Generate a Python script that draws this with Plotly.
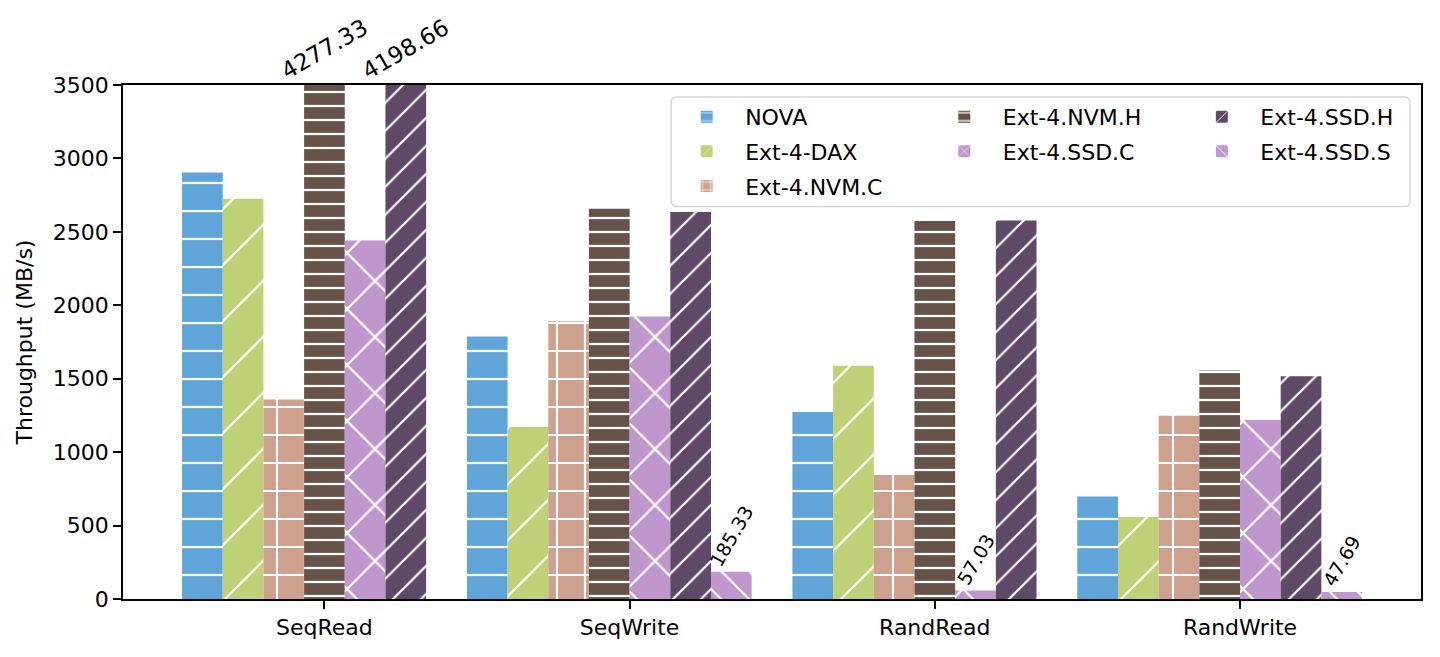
import plotly.graph_objects as go

# ---------------- data ----------------
categories = ["SeqRead", "SeqWrite", "RandRead", "RandWrite"]
series_names = ["NOVA", "Ext-4-DAX", "Ext-4.NVM.C", "Ext-4.NVM.H",
                "Ext-4.SSD.C", "Ext-4.SSD.H", "Ext-4.SSD.S"]
nova = [2905, 1787, 1273, 698]
ext4_dax = [2726, 1171, 1588, 558]
ext4_nvm_c = [1359, 1891, 845, 1248]
ext4_nvm_h = [4277.33, 2658, 2574, 1556]
ext4_ssd_c = [2441, 1923, 57.03, 1219]
ext4_ssd_h = [4198.66, 2635, 2577, 1517]
ext4_ssd_s = [None, 185.33, None, 47.69]
y_ticks = [0, 500, 1000, 1500, 2000, 2500, 3000, 3500]
y_max = 3500
series_values = [nova, ext4_dax, ext4_nvm_c, ext4_nvm_h, ext4_ssd_c, ext4_ssd_h, ext4_ssd_s]

# ---------------- style ----------------
colors = ["#5fa5d9", "#bfd176", "#cea18e", "#665248", "#bf97cd", "#5e4a67", "#bf97cd"]
pat_shapes = ["-", "/", "+", "-", "x", "/", "\\"]
pat_sizes = [28, 39.6, 28, 14, 39.6, 19.8, 19.8]
pat_solid = [0.08, 0.055, 0.15, 0.16, 0.11, 0.11, 0.11]
legend_ids = ["legend", "legend", "legend", "legend2", "legend2", "legend3", "legend3"]
FONT = "DejaVu Sans"
bar_w = 0.1333

n_per_cat = [sum(1 for s in series_values if s[k] is not None) for k in range(len(categories))]

fig = go.Figure()
annotations = []
for i, (name, vals) in enumerate(zip(series_names, series_values)):
    xs, ys = [], []
    for k, v in enumerate(vals):
        if v is None:
            continue
        xc = k + (i - n_per_cat[k] / 2) * bar_w
        xs.append(xc)
        ys.append(v)
        if v > y_max:
            annotations.append(dict(x=xc, y=y_max, text=f"{v:.2f}", textangle=-30,
                                    xanchor="center", yanchor="bottom", showarrow=False,
                                    yshift=-2, font=dict(size=23, family=FONT, color="black")))
        elif v < 200:
            annotations.append(dict(x=xc, y=v, text=f"{v:.2f}", textangle=-60,
                                    xanchor="center", yanchor="bottom", showarrow=False,
                                    yshift=-1, font=dict(size=19, family=FONT, color="black")))
    fig.add_trace(go.Bar(
        x=xs, y=ys, width=bar_w, name=name, legend=legend_ids[i], legendgroup=name,
        marker=dict(color=colors[i], line=dict(color="white", width=0),
                    pattern=dict(shape=pat_shapes[i], fgcolor="white", bgcolor=colors[i],
                                 size=pat_sizes[i], solidity=pat_solid[i], fillmode="replace")),
    ))

# page has an 8px body margin; figure is sized so that it fills the 1440x657 window exactly
OFF = 8
W, H = 1440 - 2 * OFF, 657 - 2 * OFF
L, R, T, B = 123 - OFF, W - (1423 - OFF), 85 - OFF, H - (601 - OFF)
pw, ph = W - L - R, H - T - B

def px_x(p):
    return (p - OFF - L) / pw

def px_y(p):
    return (H - B - (p - OFF)) / ph

leg_common = dict(bgcolor="rgba(0,0,0,0)", borderwidth=0, font=dict(size=22, family=FONT, color="black"),
                  xanchor="left", yanchor="top", orientation="v", tracegroupgap=3, itemwidth=67)

fig.update_layout(
    width=W, height=H,
    margin=dict(l=L, r=R, t=T, b=B),
    paper_bgcolor="white", plot_bgcolor="white",
    font=dict(family=FONT, size=22, color="black"),
    barmode="overlay",
    showlegend=True,
    legend=dict(x=px_x(669), y=px_y(96), **leg_common),
    legend2=dict(x=px_x(927), y=px_y(96), **leg_common),
    legend3=dict(x=px_x(1185), y=px_y(96), **leg_common),
    annotations=annotations,
    shapes=[dict(type="path", xref="paper", yref="paper", layer="above",
                 path=(f"M {px_x(678)} {px_y(97)} L {px_x(1406)} {px_y(97)} "
                       f"Q {px_x(1412)} {px_y(97)} {px_x(1412)} {px_y(103)} "
                       f"L {px_x(1412)} {px_y(201)} Q {px_x(1412)} {px_y(207)} {px_x(1406)} {px_y(207)} "
                       f"L {px_x(678)} {px_y(207)} Q {px_x(672)} {px_y(207)} {px_x(672)} {px_y(201)} "
                       f"L {px_x(672)} {px_y(103)} Q {px_x(672)} {px_y(97)} {px_x(678)} {px_y(97)} Z"),
                 line=dict(color="#d6d6d6", width=1.5), fillcolor="rgba(255,255,255,0.8)")],
)

fig.update_xaxes(
    range=[-0.66, 3.593], tickmode="array", tickvals=list(range(len(categories))), ticktext=categories,
    showline=True, linecolor="black", linewidth=1.6, mirror=True,
    ticks="outside", ticklen=8, tickwidth=1.6, tickcolor="black",
    showgrid=False, zeroline=False, tickfont=dict(size=22, family=FONT, color="black"),
)
fig.update_yaxes(
    range=[0, y_max], tickmode="array", tickvals=y_ticks, ticktext=[str(t) for t in y_ticks],
    showline=True, linecolor="black", linewidth=1.6, mirror=True,
    ticks="outside", ticklen=8, tickwidth=1.6, tickcolor="black",
    showgrid=False, zeroline=False, tickfont=dict(size=22, family=FONT, color="black"),
    title=dict(text="Throughput (MB/s)", font=dict(size=22, family=FONT, color="black"), standoff=14),
)

fig.write_html("out.html")
